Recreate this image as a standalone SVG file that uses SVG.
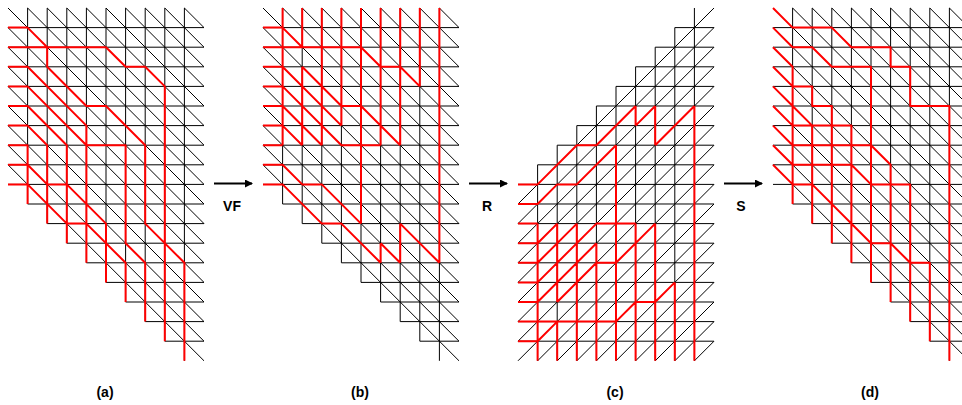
<svg xmlns="http://www.w3.org/2000/svg" width="962" height="405" viewBox="0 0 962 405">
<style>
.gl{stroke:#000;stroke-width:1;fill:none;vector-effect:non-scaling-stroke}
.rd{stroke:#f00;stroke-width:2;fill:none;vector-effect:non-scaling-stroke;stroke-linejoin:round}
.lbl{font-family:"Liberation Sans",Arial,sans-serif;font-weight:bold;font-size:14px;text-anchor:middle;fill:#000}
.ar{stroke:#000;stroke-width:2;fill:none}
</style>
<defs>
<path id="grid" class="gl" d="M0 1H10M0 2H10M0 3H10M0 4H10M0 5H10M0 6H10M0 7H10M0 8H10M0 9H10M1 10H10M2 11H10M3 12H10M4 13H10M5 14H10M6 15H10M7 16H10M8 17H10M1 0V10M2 0V11M3 0V12M4 0V13M5 0V14M6 0V15M7 0V16M8 0V17M9 0V18M0 8L10 18M0 7L10 17M0 6L10 16M0 5L10 15M0 4L10 14M0 3L10 13M0 2L10 12M0 1L10 11M0 0L10 10M1 0L10 9M2 0L10 8M3 0L10 7M4 0L10 6M5 0L10 5M6 0L10 4M7 0L10 3M8 0L10 2M9 0L10 1"/>
<path id="redb" class="rd" d="M0 1H1L2 2M0 2H5L6 3H7L8 4M2 3L4 5H5L7 7M0 3H1L4 6M0 4H1L4 7H6M0 5H1L3 7M0 6H1L2 7M0 7H1M0 8H1L2 9H3L5 11M0 9H1L3 11H4L6 13M6 12L7 13M7 11L9 13M1 0V7M2 0V2M2 3V7M3 0V7M4 0V6M5 0V11M6 0V7M6 12V13M7 0V7M7 11V13M8 0V4M9 0V13"/>
<marker id="ah" markerWidth="8" markerHeight="8" refX="7" refY="4" orient="auto" markerUnits="userSpaceOnUse"><path d="M0 0L8 4L0 8z" fill="#000"/></marker>
</defs>
<g id="panel-a" transform="translate(8,8) scale(19.6)">
<use href="#grid"/>
<path class="rd" d="M0 1H1L2 2M0 2H5L6 3H7L8 4V17M2 2V3L4 5H5L7 7V11L9 13V18M0 3H1L4 6V13M0 4H1L4 7H6V12L7 13V16M0 5H1L3 7V12M0 6H1L2 7V11M0 7H1V10M0 8H1L2 9H3L5 11V14M0 9H1L3 11H4L6 13V15"/>
</g>
<g id="panel-b" transform="translate(263,8) scale(19.6)">
<use href="#grid"/>
<use href="#redb"/>
</g>
<g id="panel-c" transform="translate(518,360.8) scale(19.6,-19.6)">
<use href="#grid"/>
<use href="#redb"/>
</g>
<g id="panel-d" transform="translate(773,8) scale(19.6)">
<use href="#grid"/>
<path class="rd" d="M0 0L1 1H3L4 2H6V3H7V5H9V18M0 1L1 2H2L3 3H5V14M0 2L1 3V10M0 3L1 4H2V5H3V6H4V13M0 4L1 5L2 6V11M0 5L1 6H3V12M0 6L1 7H5L6 8V15M0 7L1 8H4L5 9H7V16M0 8L1 9H2L5 12H6L7 13H8V17"/>
</g>
<g id="connectors">
<line class="ar" x1="214" y1="183.5" x2="252" y2="183.5" marker-end="url(#ah)"/>
<line class="ar" x1="469" y1="183.5" x2="507" y2="183.5" marker-end="url(#ah)"/>
<line class="ar" x1="724" y1="183.5" x2="762" y2="183.5" marker-end="url(#ah)"/>
</g>
<text class="lbl" x="232" y="211">VF</text>
<text class="lbl" x="487" y="211">R</text>
<text class="lbl" x="741" y="211">S</text>
<text class="lbl" x="105" y="397">(a)</text>
<text class="lbl" x="360" y="397">(b)</text>
<text class="lbl" x="615" y="397">(c)</text>
<text class="lbl" x="870" y="397">(d)</text>
</svg>
